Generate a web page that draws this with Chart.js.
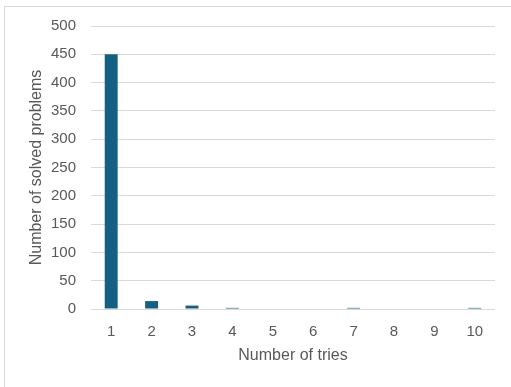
<!DOCTYPE html>
<html>
<head>
<meta charset="utf-8">
<script src="https://cdn.jsdelivr.net/npm/chart.js@4/dist/chart.umd.min.js"></script>
<style>
  html, body { margin: 0; padding: 0; background: #fff; }
  #wrap { position: relative; width: 511px; height: 387px; }
  #frame {
    position: absolute; left: 4px; top: 6px; right: 0; bottom: 0;
    border-top: 1px solid #d9d9d9; border-left: 1px solid #d9d9d9;
  }
  canvas { position: absolute; left: 0; top: 0; }
</style>
</head>
<body>
<div id="wrap">
  <div id="frame"></div>
  <canvas id="triesChart" width="511" height="387"></canvas>
</div>
<script>
  // Solved problems by number of tries
  const tries = ['1', '2', '3', '4', '5', '6', '7', '8', '9', '10'];
  const solved = [450, 14, 6, 2, 0, 0, 2, 0, 0, 2];
  const yTicks = [0, 50, 100, 150, 200, 250, 300, 350, 400, 450, 500];

  const textColor = '#595959';
  const gridColor = '#d9d9d9';
  const fontFamily = '"Liberation Sans", Arial, sans-serif';

  const ctx = document.getElementById('triesChart').getContext('2d');
  const triesChart = new Chart(ctx, {
    type: 'bar',
    data: {
      labels: tries,
      datasets: [{
        label: 'Solved',
        data: solved,
        backgroundColor: '#156082',
        borderWidth: 0,
        categoryPercentage: 1,
        barPercentage: 0.32
      }]
    },
    options: {
      responsive: false,
      animation: false,
      layout: { padding: { left: 0, top: 26, right: 16, bottom: 0 } },
      plugins: {
        legend: { display: false },
        tooltip: { enabled: false }
      },
      scales: {
        x: {
          grid: { display: false },
          border: { display: false },
          ticks: { color: textColor, padding: 6, font: { family: fontFamily, size: 15 } },
          title: {
            display: true,
            text: 'Number of tries',
            color: textColor,
            font: { family: fontFamily, size: 16 },
            padding: { top: 6, bottom: 22 }
          },
          afterFit: function(scale) { scale.height = 78; }
        },
        y: {
          min: 0,
          max: 500,
          afterBuildTicks: function(scale) {
            scale.ticks = yTicks.map(function(v) { return { value: v }; });
          },
          grid: { color: gridColor, drawTicks: false, lineWidth: 1 },
          border: { display: false },
          ticks: { color: textColor, padding: 15, font: { family: fontFamily, size: 15 } },
          title: {
            display: true,
            text: 'Number of solved problems',
            color: textColor,
            font: { family: fontFamily, size: 16 },
            padding: { top: 27, bottom: 0 }
          },
          afterFit: function(scale) { scale.width = 91; }
        }
      }
    }
  });
</script>
</body>
</html>
